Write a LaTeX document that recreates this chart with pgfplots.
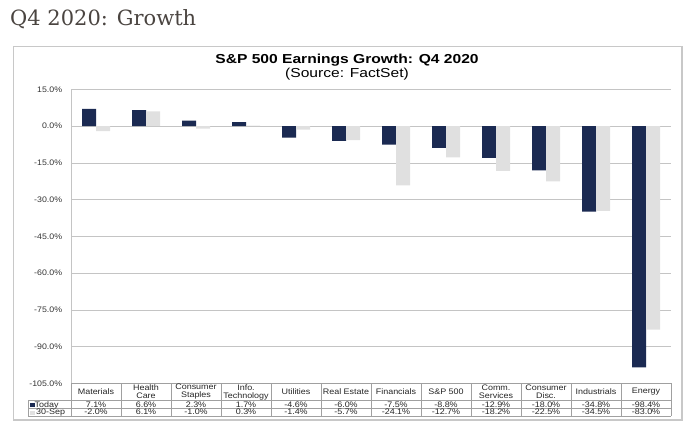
\documentclass[border=0pt]{standalone}
\usepackage{pgfplots}
\pgfplotsset{compat=1.18}
\usepackage{fontspec}
\setmainfont{Liberation Sans}
\newfontfamily\headfont{DejaVu Serif}
\definecolor{navy}{HTML}{1B2A52}
\definecolor{lightbar}{HTML}{E0E0E0}
\definecolor{gridc}{HTML}{C4C4C4}
\definecolor{tablec}{HTML}{A0A0A0}
\definecolor{framec}{HTML}{C8C8C8}
\definecolor{headc}{HTML}{4A4440}
\begin{document}
\begin{tikzpicture}[x=1pt,y=1pt]
\path[use as bounding box] (0,0) rectangle (693,435);
\node[anchor=base west, inner sep=0, text=headc] at (10,409) {\headfont\fontsize{21}{24}\selectfont Q4 2020: Growth};
\draw[framec, line width=1.2pt] (13.5,15) rectangle (682,388.5);
\node[font=\bfseries\fontsize{13}{15}\selectfont, xscale=1.2, inner sep=0] at (347,375.3) {S\&P 500 Earnings Growth: Q4 2020};
\node[font=\fontsize{13}{15}\selectfont, xscale=1.2, inner sep=0] at (347,361) {(Source: FactSet)};
\begin{axis}[
  at={(71pt,51.5pt)}, anchor=south west,
  width=600pt, height=294pt, scale only axis,
  xmin=-0.5, xmax=11.5, ymin=-105, ymax=15,
  ytick={-105,-90,-75,-60,-45,-30,-15,0,15},
  yticklabel={\pgfmathprintnumber[fixed,fixed zerofill,precision=1]{\tick}\%},
  /pgf/number format/assume math mode=true,
  xtick=\empty,
  axis line style={draw=none},
  ymajorgrids, grid style={gridc, line width=0.7pt},
  major tick length=0pt,
  ybar=0pt, bar width=14pt,
  tick label style={font=\fontsize{8}{9}\selectfont, text=black!80},
  yticklabel style={xshift=-5pt, xscale=1.1},
  clip=false,
]
\addplot[fill=navy, draw=none] coordinates {(0,7.1) (1,6.6) (2,2.3) (3,1.7) (4,-4.6) (5,-6.0) (6,-7.5) (7,-8.8) (8,-12.9) (9,-18.0) (10,-34.8) (11,-98.4)};
\addplot[fill=lightbar, draw=none] coordinates {(0,-2.0) (1,6.1) (2,-1.0) (3,0.3) (4,-1.4) (5,-5.7) (6,-24.1) (7,-12.7) (8,-18.2) (9,-22.5) (10,-34.5) (11,-83.0)};
\draw[gridc, line width=0.8pt] (rel axis cs:0,0) -- (rel axis cs:0,1);
\end{axis}
% data table
\begin{scope}[tablec, line width=0.7pt]
\draw (71,51.5) -- (671,51.5);
\foreach \yy in {34.5,26.5,19} \draw (28,\yy) -- (671,\yy);
\foreach \k in {0,...,12} \draw (71+50*\k,19) -- (71+50*\k,51.5);
\draw (28,19) -- (28,34.5);
\end{scope}
\tikzset{tab/.style={font=\fontsize{8}{8}\selectfont, text=black!85, inner sep=0, xscale=1.12}}
\foreach \nm [count=\i from 0] in {Materials,Health\\Care,Consumer\\Staples,Info.\\Technology,Utilities,Real Estate,Financials,S\&P 500,Comm.\\Services,Consumer\\Disc.,Industrials,Energy}
  \node[tab, align=center] at ({96+50*\i},43) {\nm};
\foreach \v [count=\i from 0] in {7.1,6.6,2.3,1.7,-4.6,-6.0,-7.5,-8.8,-12.9,-18.0,-34.8,-98.4}
  \node[tab, anchor=base] at ({96+50*\i},27.9) {\v\%};
\foreach \v [count=\i from 0] in {-2.0,6.1,-1.0,0.3,-1.4,-5.7,-24.1,-12.7,-18.2,-22.5,-34.5,-83.0}
  \node[tab, anchor=base] at ({96+50*\i},20.1) {\v\%};
\node[tab, anchor=base west] at (30,27.9) {\textcolor{navy}{\rule{4pt}{4pt}}Today};
\node[tab, anchor=base west] at (30,20.1) {\textcolor{lightbar}{\rule{4pt}{4pt}}\,30-Sep};
\end{tikzpicture}
\end{document}
